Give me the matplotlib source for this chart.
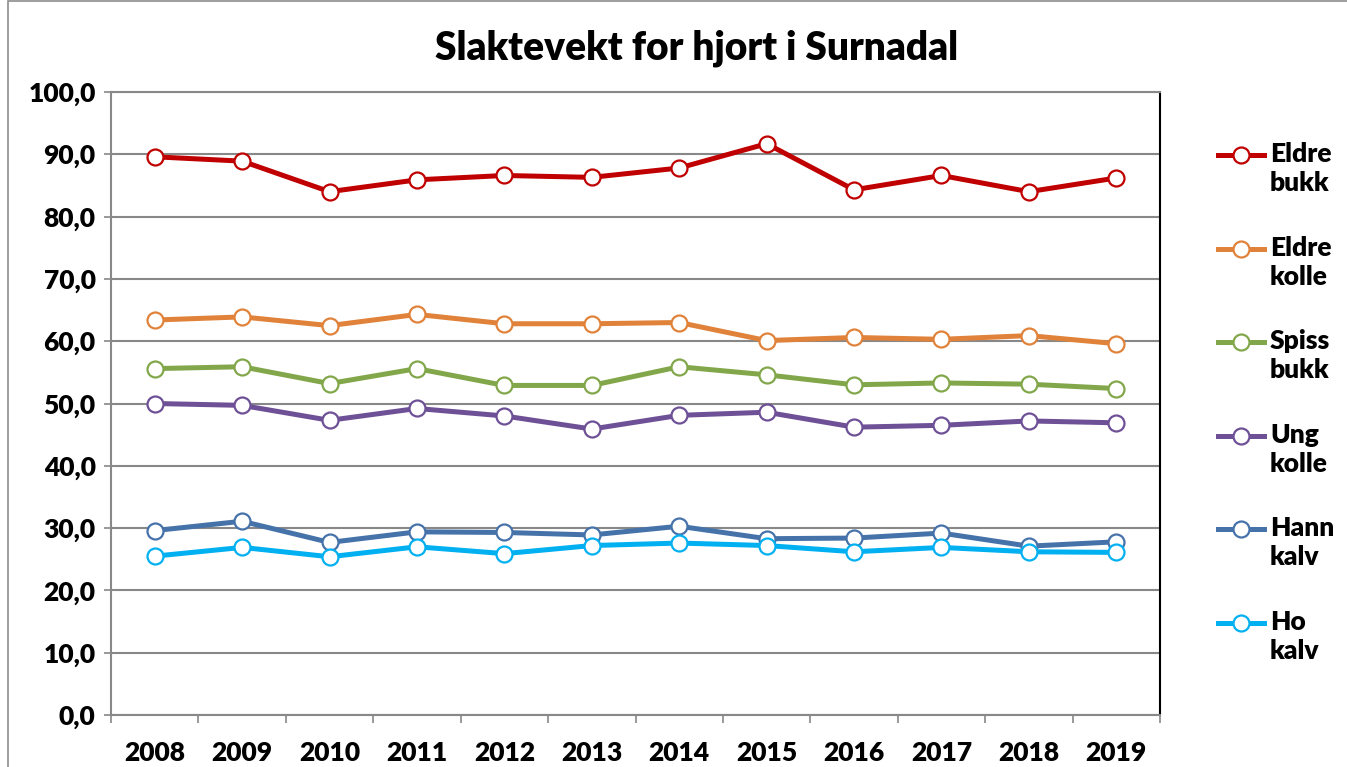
import matplotlib
matplotlib.use("Agg")
from matplotlib import pyplot as plt
from matplotlib.lines import Line2D
from matplotlib.patches import Rectangle
from matplotlib.ticker import FuncFormatter
import numpy as np

years = [2008, 2009, 2010, 2011, 2012, 2013, 2014, 2015, 2016, 2017, 2018, 2019]

eldre_bukk = [89.6, 88.9, 84.0, 85.9, 86.6, 86.3, 87.8, 91.7, 84.3, 86.6, 84.0, 86.2]
eldre_kolle = [63.4, 63.9, 62.5, 64.3, 62.8, 62.8, 63.0, 60.1, 60.6, 60.3, 60.9, 59.6]
spiss_bukk = [55.6, 55.9, 53.2, 55.6, 52.9, 52.9, 55.9, 54.6, 53.0, 53.3, 53.1, 52.4]
ung_kolle = [50.0, 49.7, 47.3, 49.2, 48.0, 45.9, 48.1, 48.6, 46.2, 46.5, 47.2, 46.9]
hann_kalv = [29.6, 31.1, 27.7, 29.4, 29.3, 28.9, 30.3, 28.3, 28.4, 29.2, 27.1, 27.8]
ho_kalv = [25.5, 26.9, 25.4, 27.0, 25.9, 27.2, 27.6, 27.2, 26.2, 26.9, 26.2, 26.1]

series = [
    ("Eldre\nbukk", eldre_bukk, "#C00000"),
    ("Eldre\nkolle", eldre_kolle, "#E0823A"),
    ("Spiss\nbukk", spiss_bukk, "#82A74A"),
    ("Ung\nkolle", ung_kolle, "#6E5096"),
    ("Hann\nkalv", hann_kalv, "#4672AA"),
    ("Ho\nkalv", ho_kalv, "#00B0F0"),
]

plt.rcParams['font.family'] = ['Lato', 'DejaVu Sans']
plt.rcParams['font.weight'] = 'heavy'

W, H = 1347, 767
fig = plt.figure(figsize=(W / 100, H / 100), dpi=100)
ax = fig.add_axes([111 / W, 1 - 715 / H, (1160 - 111) / W, (715 - 92) / H])

x = np.arange(len(years))
for label, vals, color in series:
    ax.plot(x, vals, color=color, lw=3.6, marker='o', markersize=11.5,
            markerfacecolor='white', markeredgecolor=color, markeredgewidth=1.6,
            zorder=3)

ax.set_xlim(-0.5, len(years) - 0.5)
ax.set_ylim(0, 100)
ax.set_yticks(np.arange(0, 101, 10))
ax.yaxis.set_major_formatter(FuncFormatter(lambda v, p: f"{v:.1f}".replace('.', ',')))
ax.grid(axis='y', color='#888888', lw=1.5, zorder=0)

ax.set_xticks(x)
ax.set_xticklabels([str(y) for y in years])
ax.set_xticks(np.arange(-0.5, len(years)), minor=True)
ax.tick_params(axis='x', which='major', length=0, pad=19, labelsize=19)
ax.tick_params(axis='x', which='minor', length=6, width=1.2, color='#888888', direction='out')
ax.tick_params(axis='y', length=5, width=1.2, color='#888888', pad=6, labelsize=19)

for s in ['left', 'bottom', 'top']:
    ax.spines[s].set_color('#888888')
    ax.spines[s].set_linewidth(1.5)
ax.spines['right'].set_color('black')
ax.spines['right'].set_linewidth(1.5)

fig.text(697 / W, 1 - 48 / H, "Slaktevekt for hjort i Surnadal",
         ha='center', va='center', fontsize=28, fontweight='heavy')

# legend drawn by hand to keep the two-line labels aligned like the original
for i, (label, vals, color) in enumerate(series):
    yc = 1 - (155 + i * 93.6) / H
    fig.add_artist(Line2D([1218 / W, 1264 / W], [yc, yc], color=color, lw=3.6,
                          transform=fig.transFigure))
    fig.add_artist(Line2D([1241 / W], [yc], color=color, marker='o', markersize=11.5,
                          markerfacecolor='white', markeredgewidth=1.6,
                          transform=fig.transFigure))
    fig.text(1270 / W, yc + 13 / H, label, ha='left', va='top', fontsize=19,
             fontweight='heavy', linespacing=1.25)

fig.add_artist(Rectangle((8 / W, -0.01), 1.02, 1 - 1 / H + 0.01, transform=fig.transFigure,
                         fill=False, edgecolor='#8c8c8c', lw=1.2))

fig.savefig("out.png", dpi=100)
